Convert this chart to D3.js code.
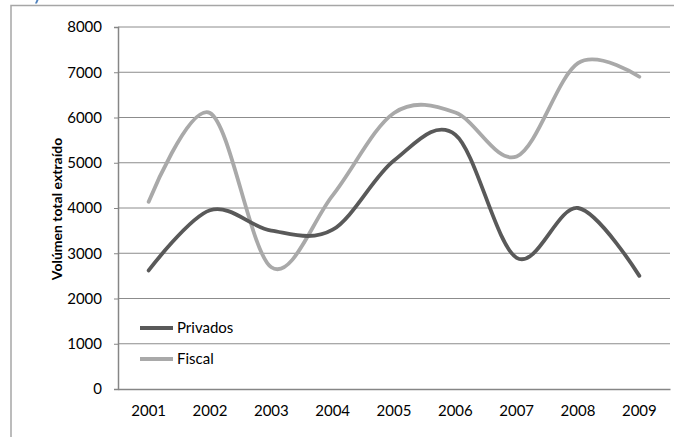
<!DOCTYPE html>
<html><head><meta charset="utf-8">
<script src="https://cdn.jsdelivr.net/npm/d3@7"></script>
<style>
html,body{margin:0;padding:0;background:#fff;}
svg{display:block;font-family:Lato,"Open Sans",sans-serif;}
</style></head>
<body>
<svg id="chart" width="674" height="437"></svg>
<script>
const years = ["2001","2002","2003","2004","2005","2006","2007","2008","2009"];
const privados = [2620, 3950, 3500, 3520, 5050, 5620, 2900, 4000, 2500];
const fiscal = [4140, 6100, 2690, 4280, 6100, 6110, 5140, 7200, 6900];
const yTicks = [0, 1000, 2000, 3000, 4000, 5000, 6000, 7000, 8000];
const seriesNames = ["Privados", "Fiscal"];
const colors = ["#595959", "#a9a9a9"];

const svg = d3.select("#chart");
const m = {left: 118, right: 670, top: 27, bottom: 389};

// outer frame
svg.append("path").attr("d", "M11,437V5.5H674")
  .attr("fill", "none").attr("stroke", "#a6a6a6").attr("stroke-width", 1.5);
// small blue glyph fragment at top (cut-off caption)
svg.append("path").attr("d", "M35,3.5L36.5,0H38.5L37,3.5Z").attr("fill", "#4f81bd");

const x = d3.scaleBand().domain(years).range([m.left, m.right]);
const y = d3.scaleLinear().domain([0, 8000]).range([m.bottom, m.top]);

// gridlines
svg.append("g").selectAll("line").data(yTicks.filter(d => d > 0)).join("line")
  .attr("x1", m.left).attr("x2", m.right)
  .attr("y1", d => y(d)).attr("y2", d => y(d))
  .attr("stroke", "#8c8c8c").attr("stroke-width", 1);

// y axis
const yAxis = svg.append("g").attr("transform", `translate(${m.left},0)`)
  .call(d3.axisLeft(y).tickValues(yTicks).tickSize(4).tickPadding(12).tickFormat(d3.format("d")));
yAxis.select(".domain").attr("stroke", "#868686").attr("stroke-width", 1.5);
yAxis.selectAll(".tick line").attr("stroke", "#868686");
yAxis.selectAll("text").attr("font-size", 15).attr("font-family", "Lato").attr("fill", "#000");

// x axis
const xAxis = svg.append("g").attr("transform", `translate(0,${m.bottom})`)
  .call(d3.axisBottom(x).tickSize(0).tickPadding(16));
xAxis.select(".domain").attr("stroke", "#868686").attr("stroke-width", 1.5);
xAxis.selectAll("text").attr("font-size", 15).attr("font-family", "Lato").attr("fill", "#000");

// y label
svg.append("text")
  .attr("transform", `translate(62,${(m.top + m.bottom) / 2 + 1}) rotate(-90)`)
  .attr("text-anchor", "middle").attr("font-size", 14).attr("font-weight", "bold")
  .attr("font-family", "Lato").attr("fill", "#000")
  .text("Volúmen total extraído");

// lines
const line = d3.line()
  .x((d, i) => x(years[i]) + x.bandwidth() / 2)
  .y(d => y(d))
  .curve(d3.curveCardinal.tension(0));

[fiscal, privados].forEach((s, k) => {
  svg.append("path").datum(s).attr("d", line)
    .attr("fill", "none").attr("stroke", k === 0 ? colors[1] : colors[0])
    .attr("stroke-width", 3.8).attr("stroke-linecap", "round").attr("stroke-linejoin", "round");
});

// legend
const legend = svg.append("g");
seriesNames.forEach((n, i) => {
  const ly = 328 + i * 31;
  legend.append("line").attr("x1", 140).attr("x2", 173).attr("y1", ly).attr("y2", ly)
    .attr("stroke", colors[i]).attr("stroke-width", 3.8);
  legend.append("text").attr("x", 177).attr("y", ly + 5).attr("font-size", 15)
    .attr("font-family", "Lato").attr("fill", "#000").text(n);
});
</script>
</body></html>
